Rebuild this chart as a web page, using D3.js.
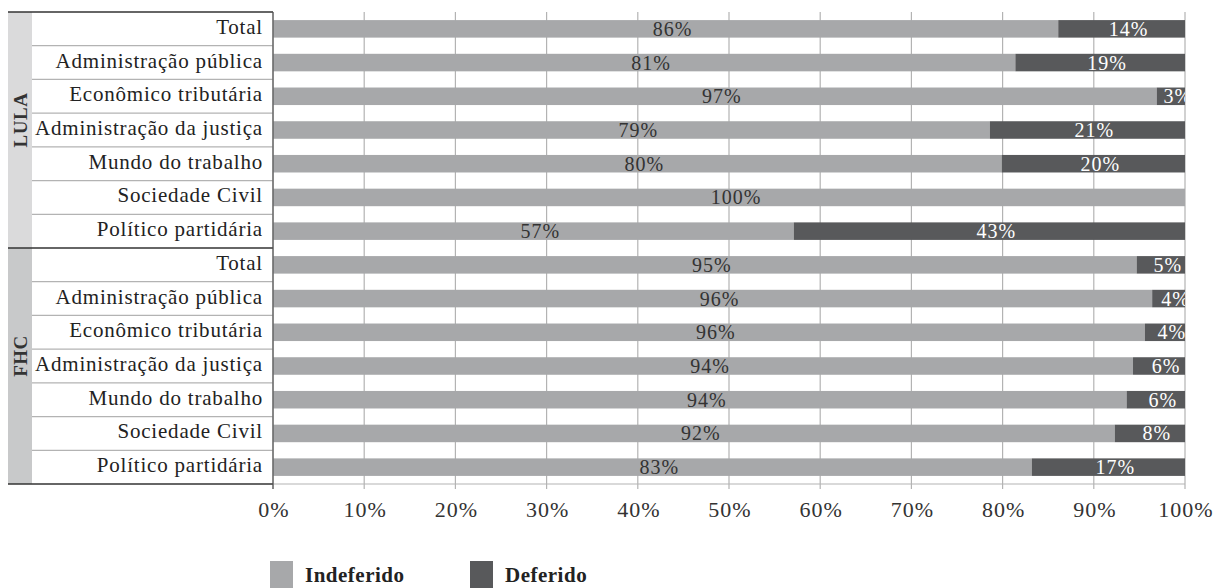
<!DOCTYPE html>
<html>
<head>
<meta charset="utf-8">
<script src="https://cdn.jsdelivr.net/npm/d3@7"></script>
<style>
  body { margin: 0; background: #fff; }
  svg text { font-family: "Liberation Serif", "Times New Roman", serif; }
</style>
</head>
<body>
<svg id="chart" width="1228" height="588"></svg>
<script>
// categories, one block per government
var groups = ["LULA", "FHC"];
var categories = ["Total", "Administração pública", "Econômico tributária",
  "Administração da justiça", "Mundo do trabalho", "Sociedade Civil", "Político partidária"];

// share of "Indeferido" (%)
var lulaIndeferido = [86.1, 81.4, 96.9, 78.6, 79.9, 100, 57.1];
var fhcIndeferido  = [94.7, 96.4, 95.6, 94.3, 93.6, 92.3, 83.2];

var xTicks = [0, 10, 20, 30, 40, 50, 60, 70, 80, 90, 100];
var seriesNames = ["Indeferido", "Deferido"];
var seriesColors = ["#a7a8aa", "#58595b"];

// build rows
var rows = [];
groups.forEach(function(g, gi) {
  var vals = gi == 0 ? lulaIndeferido : fhcIndeferido;
  categories.forEach(function(c, ci) {
    rows.push({ id: g + "-" + ci, group: g, cat: c, ind: vals[ci], def: 100 - vals[ci] });
  });
});

const margin = { top: 12, right: 43, bottom: 104, left: 273 };
const width = 1228 - margin.left - margin.right;
const height = 588 - margin.top - margin.bottom;

var svg = d3.select("#chart");
var g = svg.append("g").attr("transform", "translate(" + margin.left + "," + margin.top + ")");

var x = d3.scaleLinear().domain([0, 100]).range([0, width]);
var y = d3.scaleBand().domain(rows.map(d => d.id)).range([0, height]).paddingInner(0.48).paddingOuter(0.24);
var rowStep = y.step();
function rowTop(i) { return i * height / rows.length; }

// gridlines
g.selectAll(".grid").data(xTicks).enter().append("line")
  .attr("x1", d => x(d)).attr("x2", d => x(d))
  .attr("y1", 0).attr("y2", height + 5)
  .attr("stroke", "#b3b3b3").attr("stroke-width", 1.2);

// x axis line
g.append("line").attr("x1", 0).attr("x2", width).attr("y1", height).attr("y2", height)
  .attr("stroke", "#b3b3b3").attr("stroke-width", 1.2);

// tick labels
g.selectAll(".tick-label").data(xTicks).enter().append("text")
  .attr("x", d => x(d) + 1).attr("y", height + 33)
  .attr("text-anchor", "middle")
  .attr("font-size", "22px").attr("letter-spacing", "1px").attr("fill", "#333")
  .text(d => d + "%");

// bars
var clip = svg.append("clipPath").attr("id", "plotclip").append("rect")
  .attr("x", 0).attr("y", 0).attr("width", width).attr("height", height);

var bars = g.append("g");
bars.selectAll(".ind").data(rows).enter().append("rect")
  .attr("x", x(0)).attr("y", d => y(d.id))
  .attr("width", d => x(d.ind) - x(0)).attr("height", y.bandwidth())
  .attr("fill", seriesColors[0]);
bars.selectAll(".def").data(rows).enter().append("rect")
  .attr("x", d => x(d.ind)).attr("y", d => y(d.id))
  .attr("width", d => x(100) - x(d.ind)).attr("height", y.bandwidth())
  .attr("fill", seriesColors[1]);

var labels = g.append("g").attr("clip-path", "url(#plotclip)");
labels.selectAll(".ind-label").data(rows).enter().append("text")
  .attr("x", d => (x(0) + x(d.ind)) / 2 + 7)
  .attr("y", d => y(d.id) + y.bandwidth() / 2 + 7)
  .attr("text-anchor", "middle").attr("font-size", "20px").attr("letter-spacing", "1px")
  .attr("fill", "#333")
  .text(d => Math.round(d.ind) + "%");
labels.selectAll(".def-label").data(rows.filter(d => Math.round(d.def) > 0)).enter().append("text")
  .attr("x", d => (x(d.ind) + x(100)) / 2 + 7)
  .attr("y", d => y(d.id) + y.bandwidth() / 2 + 7)
  .attr("text-anchor", "middle").attr("font-size", "20px").attr("letter-spacing", "1px")
  .attr("fill", "#fff")
  .text(d => Math.round(d.def) + "%");

// left category table
var table = g.append("g");
var groupX0 = -265, groupX1 = -241;
groups.forEach(function(gr, gi) {
  var top = rowTop(gi * categories.length);
  var bottom = rowTop((gi + 1) * categories.length);
  table.append("rect").attr("x", groupX0).attr("y", top)
    .attr("width", groupX1 - groupX0).attr("height", bottom - top)
    .attr("fill", gi == 0 ? "#dadadb" : "#c8c9ca");
  table.append("text")
    .attr("transform", "translate(" + (groupX0 + 19) + "," + ((top + bottom) / 2 - 10) + ") rotate(-90)")
    .attr("text-anchor", "middle").attr("font-size", "19px").attr("font-weight", "bold")
    .attr("letter-spacing", "0.5px").attr("fill", "#333").text(gr);
});

// thin row separators
rows.forEach(function(d, i) {
  if (i % categories.length != 0) {
    table.append("line").attr("x1", groupX1).attr("x2", 0)
      .attr("y1", rowTop(i)).attr("y2", rowTop(i))
      .attr("stroke", "#b3b3b3").attr("stroke-width", 1.2);
  }
});
// dark separators: top, between groups, bottom
[0, categories.length, rows.length].forEach(function(i) {
  table.append("line").attr("x1", groupX0).attr("x2", 0)
    .attr("y1", rowTop(i)).attr("y2", rowTop(i))
    .attr("stroke", "#333").attr("stroke-width", 1.5);
});
// vertical axis line
table.append("line").attr("x1", 0).attr("x2", 0).attr("y1", 0).attr("y2", height + 5)
  .attr("stroke", "#555").attr("stroke-width", 1.2);

table.selectAll(".cat").data(rows).enter().append("text")
  .attr("x", -10).attr("y", (d, i) => rowTop(i) + rowStep / 2 + 5)
  .attr("text-anchor", "end").attr("font-size", "21px").attr("letter-spacing", "0.8px")
  .attr("fill", "#222")
  .text(d => d.cat);

// legend
var legend = svg.append("g").attr("transform", "translate(270,561)");
seriesNames.forEach(function(s, i) {
  var lg = legend.append("g").attr("transform", "translate(" + (i * 200) + ",0)");
  lg.append("rect").attr("width", 23).attr("height", 27).attr("fill", seriesColors[i]);
  lg.append("text").attr("x", 35).attr("y", 21).attr("font-size", "21px")
    .attr("font-weight", "bold").attr("letter-spacing", "0.5px").attr("fill", "#222").text(s);
});
</script>
</body>
</html>
